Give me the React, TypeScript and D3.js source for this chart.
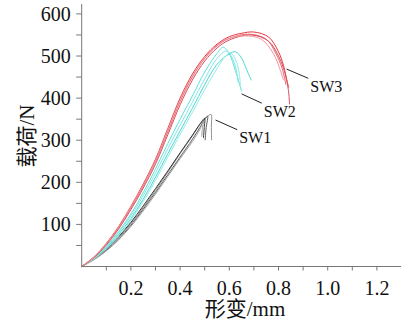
import * as d3 from 'd3'

// SW1 load-deformation curves (mm, N)
const sw1Curves: [number, number][][] = [
  [[0, 0], [0.05, 18], [0.1, 40], [0.15, 68], [0.2, 102], [0.25, 140], [0.3, 181], [0.35, 224], [0.4, 268], [0.45, 310], [0.49, 345], [0.515, 358], [0.526, 361], [0.527, 330], [0.528, 300]],
  [[0, 0], [0.05, 17], [0.1, 38], [0.15, 65], [0.2, 98], [0.25, 136], [0.3, 176], [0.35, 218], [0.4, 260], [0.45, 302], [0.48, 330], [0.5, 350], [0.512, 357], [0.506, 330], [0.502, 300]],
  [[0, 0], [0.05, 19], [0.1, 42], [0.15, 71], [0.2, 105], [0.25, 144], [0.3, 185], [0.35, 227], [0.4, 270], [0.45, 312], [0.48, 338], [0.5, 352], [0.498, 330], [0.495, 305]],
  [[0, 0], [0.05, 16], [0.1, 37], [0.15, 63], [0.2, 95], [0.25, 132], [0.3, 172], [0.35, 214], [0.4, 256], [0.45, 297], [0.48, 325], [0.495, 345], [0.49, 325], [0.488, 308]],
]

// SW2
const sw2Curves: [number, number][][] = [
  [[0, 0], [0.05, 21], [0.1, 48], [0.15, 83], [0.2, 125], [0.25, 175], [0.3, 232], [0.35, 292], [0.4, 350], [0.45, 405], [0.5, 462], [0.55, 506], [0.575, 521], [0.6, 505], [0.625, 465], [0.65, 416]],
  [[0, 0], [0.05, 20], [0.1, 46], [0.15, 80], [0.2, 120], [0.25, 168], [0.3, 222], [0.35, 280], [0.4, 336], [0.45, 390], [0.5, 446], [0.55, 494], [0.588, 512], [0.61, 498], [0.628, 468], [0.637, 436]],
  [[0, 0], [0.05, 19], [0.1, 44], [0.15, 76], [0.2, 114], [0.25, 160], [0.3, 212], [0.35, 268], [0.4, 322], [0.45, 376], [0.5, 432], [0.55, 480], [0.6, 505], [0.625, 510], [0.65, 495], [0.67, 468], [0.69, 442]],
  [[0, 0], [0.05, 18], [0.1, 42], [0.15, 73], [0.2, 110], [0.25, 154], [0.3, 205], [0.35, 260], [0.4, 314], [0.45, 366], [0.5, 420], [0.55, 470], [0.585, 500], [0.605, 508], [0.625, 492], [0.64, 460], [0.645, 430]],
]

// SW3
const sw3Curves: [number, number][][] = [
  [[0, 0], [0.05, 23], [0.1, 55], [0.15, 95], [0.2, 143], [0.25, 196], [0.3, 255], [0.35, 328], [0.4, 400], [0.45, 457], [0.5, 499], [0.55, 528], [0.6, 546], [0.65, 554], [0.7, 557], [0.76, 545], [0.8, 510], [0.82, 478], [0.835, 440], [0.842, 425]],
  [[0, 0], [0.05, 22], [0.1, 53], [0.15, 92], [0.2, 139], [0.25, 191], [0.3, 249], [0.35, 320], [0.4, 392], [0.45, 450], [0.5, 494], [0.55, 524], [0.6, 542], [0.68, 552], [0.75, 540], [0.79, 505], [0.815, 470], [0.83, 432]],
  [[0, 0], [0.05, 21], [0.1, 51], [0.15, 89], [0.2, 135], [0.25, 186], [0.3, 243], [0.35, 313], [0.4, 384], [0.45, 443], [0.5, 488], [0.55, 519], [0.6, 538], [0.69, 550], [0.76, 535], [0.8, 500], [0.825, 462], [0.84, 420], [0.845, 385]],
  [[0, 0], [0.05, 22], [0.1, 54], [0.15, 94], [0.2, 141], [0.25, 194], [0.3, 252], [0.35, 324], [0.4, 396], [0.45, 452], [0.5, 495], [0.55, 526], [0.6, 542], [0.66, 548], [0.73, 540], [0.78, 505], [0.805, 470], [0.82, 443]],
]

const sw1Colors = ['#8a8a8a', '#5a5a5a', '#333333', '#a0a0a0']
const sw2Colors = ['#5fe0da', '#7fe9e3', '#4fd6d2', '#92ece7']
const sw3Colors = ['#e8343f', '#e36872', '#d9505b', '#f0959c']

const groupNames = ['SW1', 'SW2', 'SW3']
// leader line start, end and label position in data units
const leaderStart: [number, number][] = [[0.544, 348], [0.65, 410], [0.833, 469]]
const leaderEnd: [number, number][] = [[0.632, 325], [0.732, 388], [0.921, 447]]

const xTicks = [0.1, 0.2, 0.3, 0.4, 0.5, 0.6, 0.7, 0.8, 0.9, 1.0, 1.1, 1.2]
const xLabels = [0.2, 0.4, 0.6, 0.8, 1.0, 1.2]
const yTicks = [50, 100, 150, 200, 250, 300, 350, 400, 450, 500, 550, 600]
const yLabels = [100, 200, 300, 400, 500, 600]

const width = 401
const height = 321

const App = () => {
  const x = d3.scaleLinear().domain([0, 1.3]).range([81.7, 401.5])
  const y = d3.scaleLinear().domain([0, 620]).range([266.5, 5.5])

  const line = d3.line<[number, number]>()
    .x(d => x(d[0]))
    .y(d => y(d[1]))
    .curve(d3.curveCatmullRom.alpha(0.5))

  const groups = [
    { curves: sw1Curves, colors: sw1Colors },
    { curves: sw2Curves, colors: sw2Colors },
    { curves: sw3Curves, colors: sw3Colors },
  ]

  const serif = '"Liberation Serif", "Times New Roman", "Noto Sans CJK SC", serif'

  return (
    <>
      <style>{'body{margin:0}'}</style>
      <svg width={width} height={height} style={{ display: 'block', background: '#fff' }}>
        {groups.map((g, gi) => (
          <g key={gi}>
            {g.curves.map((c, ci) => (
              <path key={ci} d={line(c) || ''} fill="none" stroke={g.colors[ci % g.colors.length]} strokeWidth={1} />
            ))}
          </g>
        ))}

        {/* axes */}
        <line x1={x(0)} x2={x(0)} y1={y(0)} y2={4} stroke="#777" strokeWidth={1} />
        <line x1={x(0)} x2={width} y1={y(0)} y2={y(0)} stroke="#777" strokeWidth={1} />

        {yTicks.map(t => (
          <line key={t} x1={x(0) - 5.5} x2={x(0)} y1={y(t)} y2={y(t)} stroke="#777" strokeWidth={1} />
        ))}
        {yLabels.map(t => (
          <text key={t} x={x(0) - 11} y={y(t)} dy="0.35em" textAnchor="end" fontFamily={serif} fontSize={20} fill="#111">{t}</text>
        ))}

        {xTicks.map(t => (
          <line key={t} x1={x(t)} x2={x(t)} y1={y(0)} y2={y(0) + 4} stroke="#777" strokeWidth={1} />
        ))}
        {xLabels.map(t => (
          <text key={t} x={x(t)} y={294.5} textAnchor="middle" fontFamily={serif} fontSize={20} fill="#111">{t.toFixed(1)}</text>
        ))}

        <text x={245} y={316} textAnchor="middle" fontFamily={serif} fontSize={21} fill="#111">形变/mm</text>
        <text transform="translate(34,136) rotate(-90)" textAnchor="middle" fontFamily={serif} fontSize={21} fill="#111">载荷/N</text>

        {groupNames.map((name, i) => (
          <g key={name}>
            <line x1={x(leaderStart[i][0])} y1={y(leaderStart[i][1])} x2={x(leaderEnd[i][0])} y2={y(leaderEnd[i][1])} stroke="#222" strokeWidth={1} />
            <text x={x(leaderEnd[i][0]) + 2} y={y(leaderEnd[i][1]) + 8} dy="0.35em" fontFamily={serif} fontSize={16} fill="#111">{name}</text>
          </g>
        ))}
      </svg>
    </>
  )
}

export default App
